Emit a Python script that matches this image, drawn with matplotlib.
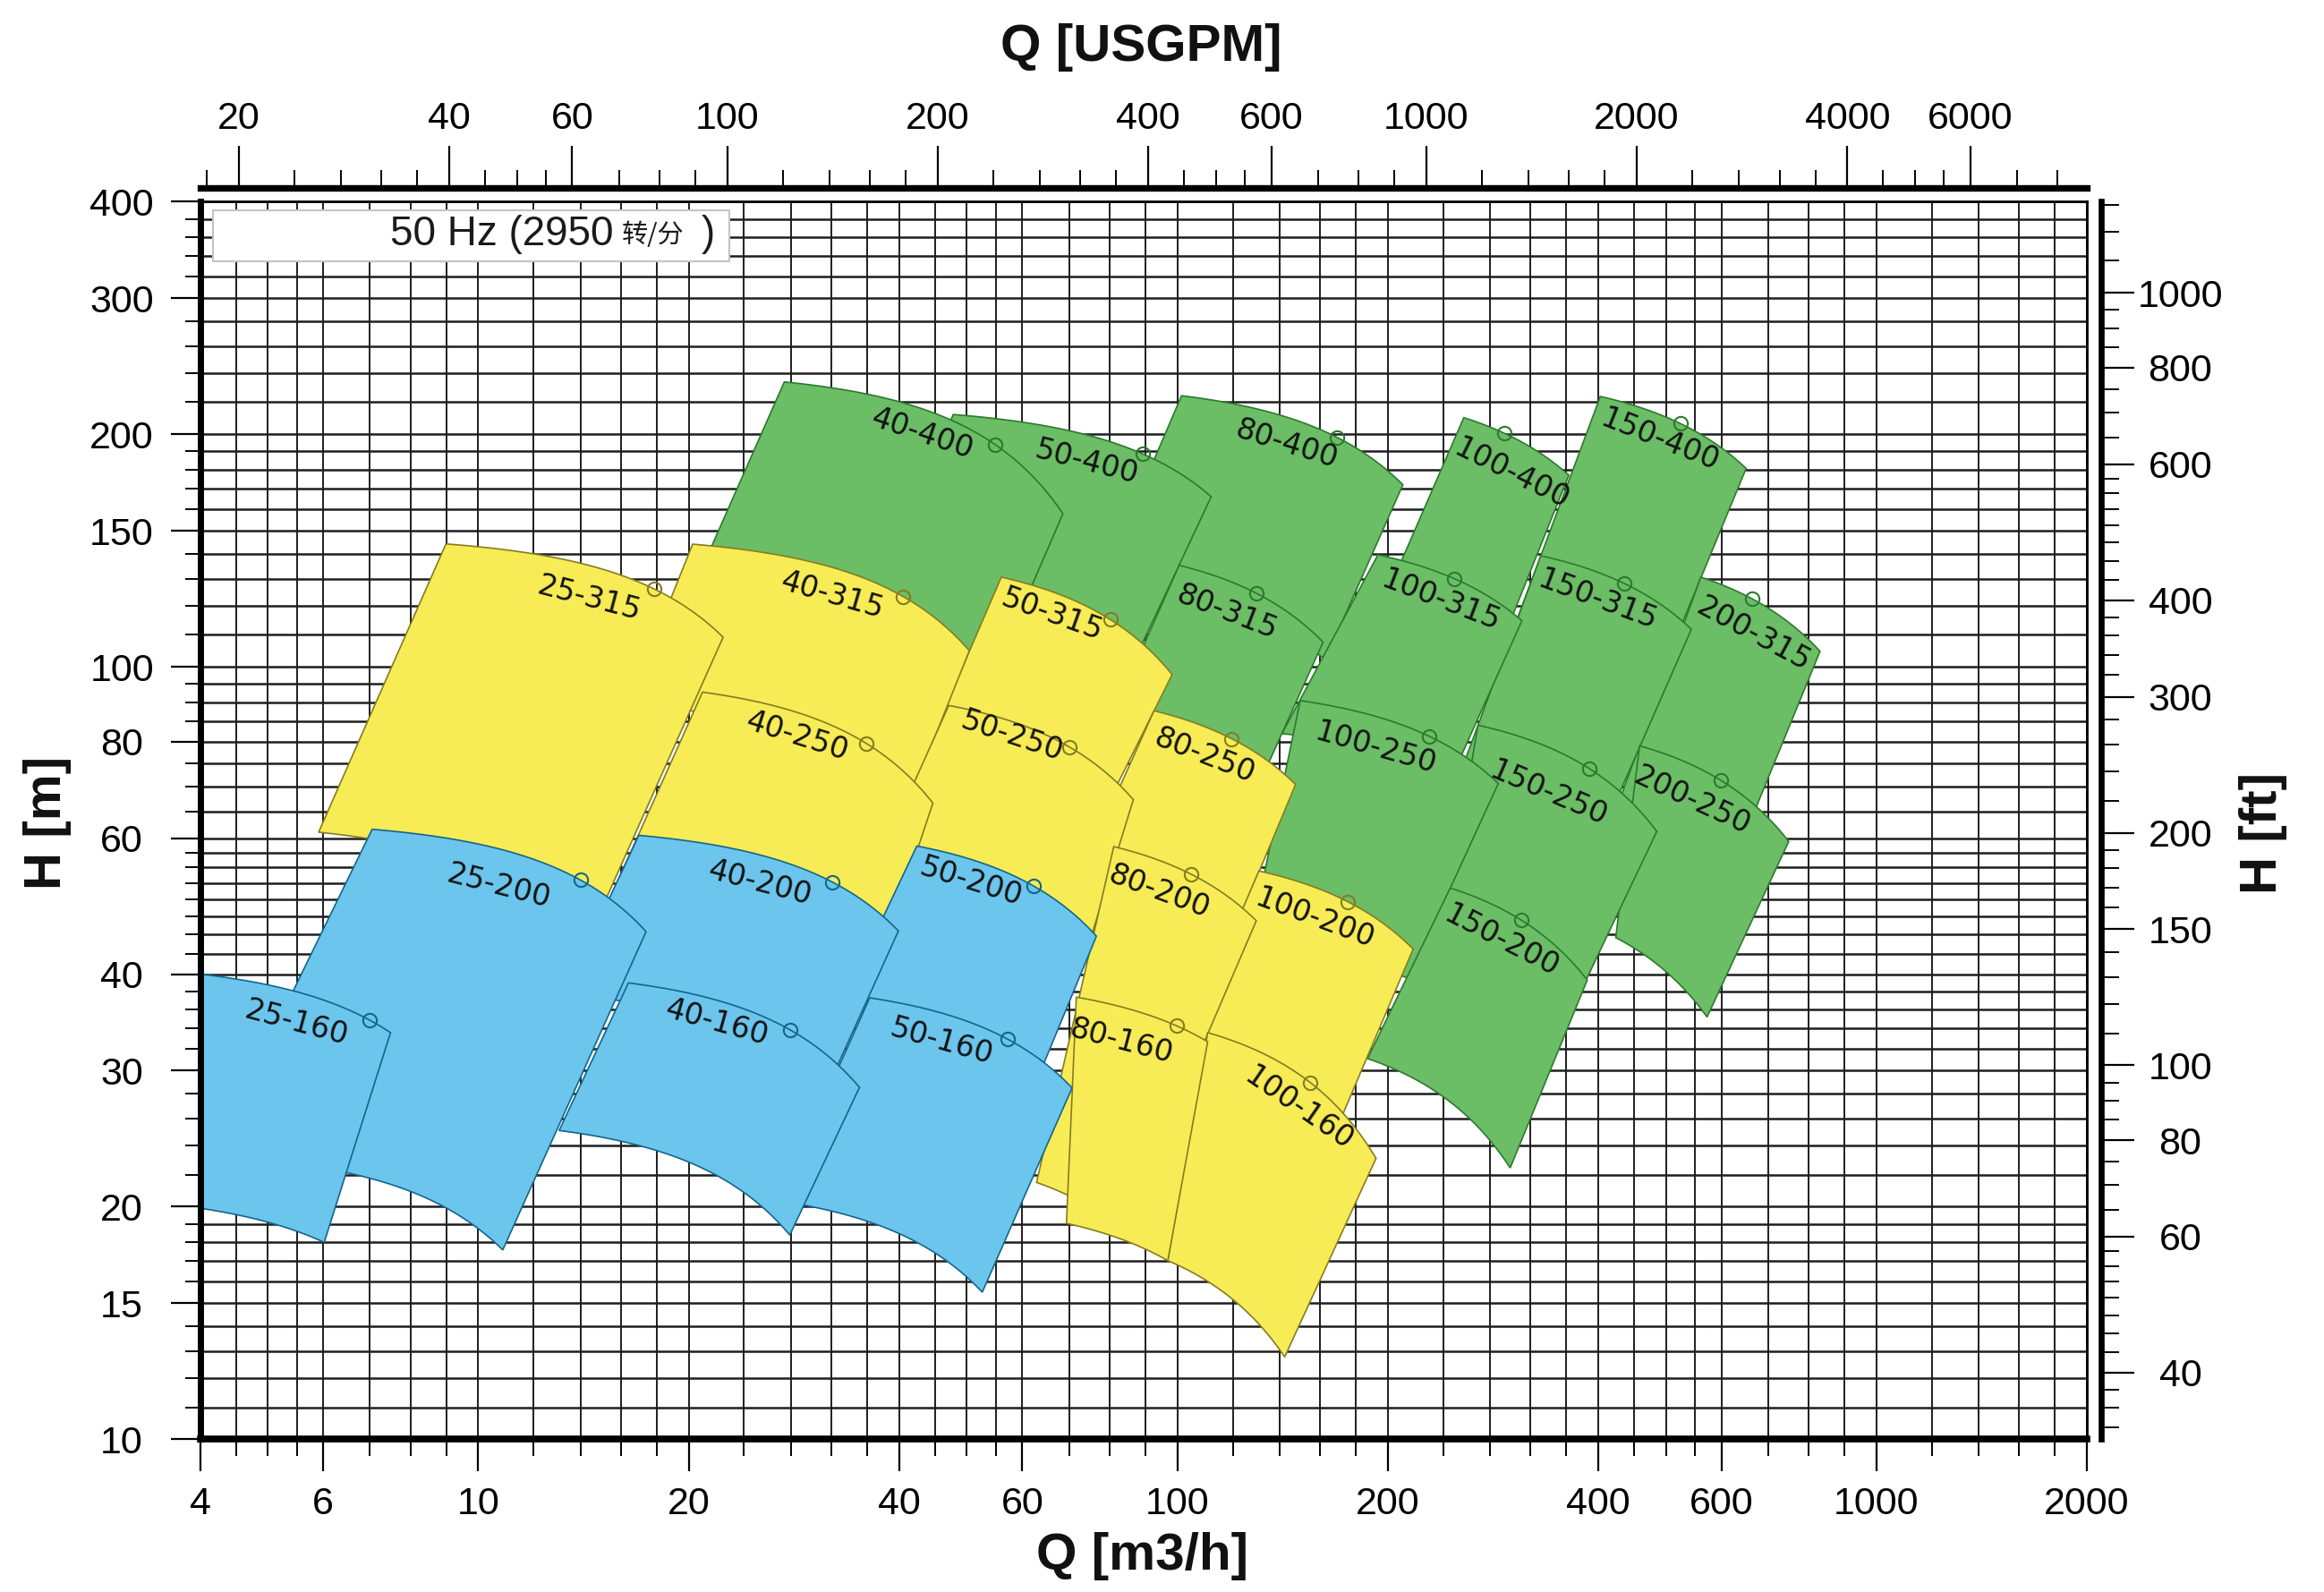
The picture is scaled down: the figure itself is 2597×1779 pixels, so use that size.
import numpy as np
import matplotlib
matplotlib.use("Agg")
import matplotlib.pyplot as plt
from matplotlib.patches import Polygon, Rectangle
from matplotlib.ticker import FixedLocator, NullFormatter, FixedFormatter

plt.rcParams['font.family'] = ['Liberation Sans', 'DejaVu Sans']

# ---------------- axis data ----------------
GPM_PER_M3H = 4.4029
FT_PER_M = 3.2808

x_major = [4, 6, 10, 20, 40, 60, 100, 200, 400, 600, 1000, 2000]
y_major = [10, 15, 20, 30, 40, 60, 80, 100, 150, 200, 300, 400]
gpm_major = [20, 40, 60, 100, 200, 400, 600, 1000, 2000, 4000, 6000]
ft_major = [40, 60, 80, 100, 150, 200, 300, 400, 600, 800, 1000]

x_steps = [1, 1.2, 1.4, 1.6, 1.8, 2, 2.4, 2.8, 3.2, 3.6, 4, 4.5, 5, 5.5, 6, 7, 8, 9]
y_steps = [1.0, 1.1, 1.2, 1.3, 1.4, 1.5, 1.6, 1.7, 1.8, 1.9,
           2.0, 2.2, 2.4, 2.6, 2.8, 3.0, 3.2, 3.4, 3.6, 3.8,
           4.0, 4.25, 4.5, 4.75, 5.0, 5.25, 5.5, 5.75,
           6.0, 6.5, 7.0, 7.5, 8.0, 8.5, 9.0, 9.5]
decades = [1, 10, 100, 1000]

# ---------------- pump tiles (draw order) ----------------
models = ['150-400', '100-400', '80-400', '50-400', '40-400',
          '200-315', '150-315', '100-315', '80-315',
          '200-250', '150-250', '100-250',
          '150-200',
          '50-315', '40-315', '25-315',
          '80-250', '50-250', '40-250',
          '100-200', '80-200',
          '100-160', '80-160',
          '50-200', '40-200', '25-200',
          '50-160', '40-160', '25-160']
family = ['g'] * 13 + ['y'] * 10 + ['b'] * 6

tl_q = [402.8, 256.9, 101.4, 47.8, 27.4,
        560.8, 331.1, 193.6, 100.6,
        458.4, 269.2, 149.9,
        245.7,
        56.0, 20.26, 8.99,
        92.6, 47.1, 20.93,
        130.8, 81.1,
        110.5, 71.7,
        42.4, 16.97, 7.05,
        36.3, 16.4, 3.7]
tl_h = [223.8, 210.1, 224.3, 212.1, 233.7,
        130.6, 139.2, 139.6, 135.3,
        79.0, 84.0, 90.4,
        51.7,
        130.6, 144.1, 144.2,
        87.7, 89.1, 92.7,
        54.4, 58.5,
        33.6, 37.35,
        58.6, 60.5, 61.6,
        37.27, 38.97, 40.3]
tr_q = [651.1, 363.1, 210.2, 111.8, 68.6,
        830.5, 543.6, 311.1, 161.6,
        749.2, 485.1, 287.8,
        385.8,
        98.3, 50.4, 22.4,
        147.6, 86.5, 44.7,
        217.4, 129.7,
        192.4, 110.5,
        76.6, 39.9, 17.38,
        70.7, 35.1, 7.49]
tr_h = [180.6, 177.0, 172.0, 166.0, 157.8,
        104.7, 111.8, 114.7, 107.6,
        59.4, 61.2, 70.6,
        39.3,
        97.7, 104.9, 109.2,
        70.4, 67.3, 66.6,
        43.1, 46.9,
        23.1, 32.7,
        44.8, 45.5, 45.4,
        28.5, 28.54, 33.6]
bl_q = [305.0, 199.8, 77.5, 38.0, 19.3,
        425.2, 254.6, 141.1, 81.2,
        423.7, 241.5, 126.5,
        187.1,
        45.8, 16.4, 5.91,
        74.3, 37.5, 14.8,
        103.4, 62.9,
        96.9, 69.4,
        32.95, 13.3, 4.17,
        26.9, 13.05, 3.7]
bl_h = [114.1, 124.6, 127.4, 130.0, 114.1,
        65.7, 73.3, 81.9, 87.4,
        44.6, 47.2, 43.1,
        31.1,
        85.6, 89.5, 61.06,
        56.3, 56.3, 46.1,
        33.1, 21.5,
        17.03, 19.03,
        36.2, 37.8, 23.3,
        20.35, 25.1, 20.1]
br_q = [506.9, 293.2, 162.8, 87.9, 54.0,
        627.2, 406.8, 249.1, 133.5,
        572.4, 376.5, 214.4,
        299.3,
        79.0, 41.0, 14.16,
        117.8, 74.4, 37.5,
        159.3, 83.7,
        142.4, 96.9,
        60.9, 30.8, 10.84,
        52.6, 27.9, 6.02]
br_h = [104.4, 109.2, 102.1, 104.4, 95.6,
        56.3, 61.5, 73.3, 73.3,
        35.2, 37.8, 39.5,
        22.45,
        65.7, 65.7, 43.2,
        43.2, 43.2, 41.3,
        22.25, 18.64,
        12.78, 17.03,
        27.1, 27.1, 17.58,
        15.5, 18.38, 17.98]
bep_q = [524.4, 293.8, 169.1, 89.2, 54.9,
         665.1, 435.2, 249.0, 129.9,
         599.6, 388.5, 229.3,
         310.8,
         80.2, 40.5, 17.86,
         119.6, 70.1, 35.9,
         175.2, 104.5,
         155.0, 99.7,
         62.3, 32.1, 14.0,
         57.2, 27.9, 7.0]
label_q = [490.0, 300.7, 143.2, 74.1, 43.1,
           666.6, 399.3, 237.9, 117.8,
           545.6, 339.9, 192.0,
           290.7,
           66.2, 32.1, 14.4,
           109.5, 58.0, 28.6,
           157.1, 94.1,
           149.0, 83.3,
           50.6, 25.3, 10.7,
           45.9, 21.9, 5.49]
label_h = [196.5, 177.5, 193.8, 183.8, 199.9,
           110.1, 121.9, 121.9, 117.6,
           67.1, 68.6, 78.4,
           44.1,
           116.6, 123.5, 122.4,
           76.6, 81.2, 81.2,
           47.2, 51.05,
           26.8, 32.7,
           52.6, 52.4, 51.9,
           32.7, 34.6, 34.6]

fill_color = {'g': '#6BBD66', 'y': '#F7EC55', 'b': '#6CC5EC'}
edge_color = {'g': '#2C7A2C', 'y': '#857C22', 'b': '#13668A'}

# ---------------- figure ----------------
W, H = 2597, 1779
fig = plt.figure(figsize=(W / 100, H / 100), dpi=100)
fig.patch.set_facecolor('white')
L, R, T, B = 223.6, 2332.0, 225.3, 1608.3
ax = fig.add_axes([L / W, 1 - B / H, (R - L) / W, (B - T) / H])
ax.set_xscale('log')
ax.set_yscale('log')
ax.set_xlim(4, 2000)
ax.set_ylim(10, 400)

x_grid = sorted({round(d * s, 6) for d in decades for s in x_steps if 4 <= d * s <= 2000})
y_grid = sorted({round(d * s, 6) for d in decades for s in y_steps if 10 <= d * s <= 400})
gpm_grid = sorted({round(d * s, 6) for d in [10, 100, 1000] for s in x_steps
                   if 17 <= d * s <= 8900})
ft_grid = sorted({round(d * s, 6) for d in [10, 100, 1000] for s in y_steps
                  if 32 <= d * s <= 1313})

ax.xaxis.set_major_locator(FixedLocator(x_major))
ax.xaxis.set_minor_locator(FixedLocator(x_grid))
ax.xaxis.set_major_formatter(FixedFormatter([str(v) for v in x_major]))
ax.xaxis.set_minor_formatter(NullFormatter())
ax.yaxis.set_major_locator(FixedLocator(y_major))
ax.yaxis.set_minor_locator(FixedLocator(y_grid))
ax.yaxis.set_major_formatter(FixedFormatter([str(v) for v in y_major]))
ax.yaxis.set_minor_formatter(NullFormatter())

ax.tick_params(axis='x', which='major', direction='out', length=26, width=1.6,
               pad=12, labelsize=31, top=False, labeltop=False)
ax.tick_params(axis='x', which='minor', direction='out', length=14, width=1.4, top=False)
ax.tick_params(axis='y', which='major', direction='out', length=24, width=1.6,
               pad=39, labelsize=31, right=False, labelright=False)
ax.tick_params(axis='y', which='minor', direction='out', length=12, width=1.4, right=False)
for lab in ax.get_yticklabels():
    lab.set_horizontalalignment('center')

ax.grid(True, which='both', axis='x', color='#1e1e1e', lw=1.4)
ax.grid(True, which='both', axis='y', color='#1e1e1e', lw=1.8)
ax.set_axisbelow(True)

ax.spines['left'].set_linewidth(5.0)
ax.spines['bottom'].set_linewidth(5.5)
ax.spines['top'].set_linewidth(2.0)
ax.spines['right'].set_linewidth(2.0)

# ---------------- tiles ----------------
def pump_curve(q0, h0, q1, h1, n=2.5):
    b = (h0 - h1) / (q1 ** n - q0 ** n)
    a = h0 + b * q0 ** n
    return lambda q: a - b * np.asarray(q, dtype=float) ** n

tops = []
for i in range(len(models)):
    top = pump_curve(tl_q[i], tl_h[i], tr_q[i], tr_h[i])
    bot = pump_curve(bl_q[i], bl_h[i], br_q[i], br_h[i])
    tops.append(top)
    qt = np.geomspace(tl_q[i], tr_q[i], 80)
    qb = np.geomspace(br_q[i], bl_q[i], 80)
    verts = list(zip(qt, top(qt))) + list(zip(qb, bot(qb)))
    f = family[i]
    ax.add_patch(Polygon(verts, closed=True, facecolor=fill_color[f],
                         edgecolor=edge_color[f], lw=1.2, zorder=1.0 + i * 0.02))

for i in range(len(models)):
    f = family[i]
    top = tops[i]
    ax.plot([bep_q[i]], [float(top(bep_q[i]))], 'o', ms=11, mfc='none',
            mec=edge_color[f], mew=1.5, zorder=2.1)
    q = label_q[i]
    p1 = ax.transData.transform((q / 1.04, float(top(q / 1.04))))
    p2 = ax.transData.transform((q * 1.04, float(top(q * 1.04))))
    ang = np.degrees(np.arctan2(p2[1] - p1[1], p2[0] - p1[0]))
    ax.text(q, label_h[i], models[i], rotation=ang, rotation_mode='anchor',
            ha='center', va='center', fontsize=24, family='DejaVu Sans',
            color='#141414', zorder=2.2)

# ---------------- secondary axes ----------------
secx = ax.secondary_xaxis('top', functions=(lambda q: q * GPM_PER_M3H,
                                            lambda g: g / GPM_PER_M3H))
secx.xaxis.set_major_locator(FixedLocator(gpm_major))
secx.xaxis.set_minor_locator(FixedLocator(gpm_grid))
secx.xaxis.set_major_formatter(FixedFormatter([str(v) for v in gpm_major]))
secx.xaxis.set_minor_formatter(NullFormatter())
secx.spines['top'].set_position(('outward', 11.2))
secx.spines['top'].set_linewidth(5.3)
secx.tick_params(axis='x', which='major', direction='out', length=34, width=1.6,
                 pad=7, labelsize=31)
secx.tick_params(axis='x', which='minor', direction='out', length=14.5, width=1.4)

secy = ax.secondary_yaxis('right', functions=(lambda h: h * FT_PER_M,
                                              lambda f: f / FT_PER_M))
secy.yaxis.set_major_locator(FixedLocator(ft_major))
secy.yaxis.set_minor_locator(FixedLocator(ft_grid))
secy.yaxis.set_major_formatter(FixedFormatter([str(v) for v in ft_major]))
secy.yaxis.set_minor_formatter(NullFormatter())
secy.spines['right'].set_position(('outward', 11.7))
secy.spines['right'].set_linewidth(4.8)
secy.tick_params(axis='y', which='major', direction='out', length=26.5, width=1.6,
                 pad=37, labelsize=31)
secy.tick_params(axis='y', which='minor', direction='out', length=14.5, width=1.4)
for lab in secy.get_yticklabels():
    lab.set_horizontalalignment('center')

# ---------------- legend box ----------------
ax.add_patch(Rectangle((0.0068, 0.9518), 0.2737, 0.0412, transform=ax.transAxes,
                       facecolor='white', edgecolor='#c4c4c4', lw=1.5, zorder=3))
ax.text(0.2193, 0.9735, '50 Hz (2950', transform=ax.transAxes, ha='right',
        va='center', fontsize=33, color='#1a1a1a', zorder=4)
ax.text(0.2234, 0.9725, '转/分', transform=ax.transAxes, ha='left', va='center',
        fontsize=21, family=['Noto Sans CJK SC', 'DejaVu Sans'], color='#1a1a1a', zorder=4)
ax.text(0.2656, 0.9735, ')', transform=ax.transAxes, ha='left', va='center',
        fontsize=33, color='#1a1a1a', zorder=4)

# ---------------- axis titles ----------------
fig.text(53 / W, 1 - 919 / H, 'H [m]', rotation=90, ha='center', va='center',
         fontsize=42, fontweight='bold', color='#111111')
fig.text(2529 / W, 1 - 931 / H, 'H [ft]', rotation=90, ha='center', va='center',
         fontsize=42, fontweight='bold', color='#111111')
fig.text(1275 / W, 1 - 53 / H, 'Q [USGPM]', ha='center', va='center',
         fontsize=42, fontweight='bold', color='#111111')
fig.text(1277 / W, 1 - 1739 / H, 'Q [m3/h]', ha='center', va='center',
         fontsize=42, fontweight='bold', color='#111111')

fig.savefig('out.png', dpi=100)
